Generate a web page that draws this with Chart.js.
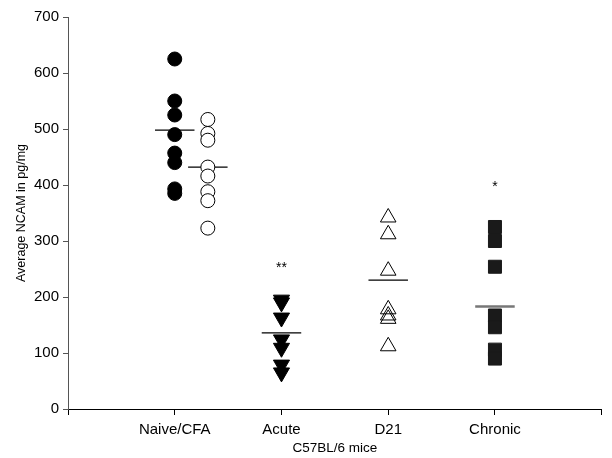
<!DOCTYPE html>
<html>
<head>
<meta charset="utf-8">
<script src="https://cdn.jsdelivr.net/npm/chart.js@4/dist/chart.umd.min.js"></script>
<style>
html,body{margin:0;padding:0;background:#fff;}
#wrap{width:612px;height:458px;position:relative;}
</style>
</head>
<body>
<div id="wrap"><canvas id="c" width="612" height="458"></canvas></div>
<script>
// ---- data ----
const categories = ['Naive/CFA', 'Acute', 'D21', 'Chronic'];
const naiveFilled = [625, 550, 525, 490, 457, 440, 393, 385];
const naiveOpen = [517, 492, 480, 432, 416, 388, 372, 323];
const acute = [195, 190, 163, 124, 109, 79, 65];
const d21 = [342, 312, 247, 178, 167, 161, 112];
const chronic = [325, 300, 254, 167, 146, 106, 90];
const groupMeans = [498, 432, 136, 230, 183];
const significance = ['', '**', '', '*'];
const significanceY = [null, 257, null, 402];
const yTicks = [0, 100, 200, 300, 400, 500, 600, 700];

// ---- layout constants ----
const groupX = [1, 1.31, 2, 3, 4];
const meanHalf = 0.185;
const FONT = "'Liberation Sans', Arial, sans-serif";

function pts(xv, arr) { return arr.map(v => ({x: xv, y: v})); }
function meanLine(i, color, width) {
  return {
    type: 'line',
    data: [{x: groupX[i] - meanHalf, y: groupMeans[i]}, {x: groupX[i] + meanHalf, y: groupMeans[i]}],
    borderColor: color, borderWidth: width, pointRadius: 0, showLine: true, fill: false
  };
}

const sigPlugin = {
  id: 'sig',
  afterDatasetsDraw(chart) {
    const ctx = chart.ctx, xs = chart.scales.x, ys = chart.scales.y;
    ctx.save();
    ctx.fillStyle = '#000';
    ctx.font = '14px ' + FONT;
    ctx.textAlign = 'center';
    ctx.textBaseline = 'middle';
    significance.forEach((s, i) => {
      if (!s) return;
      ctx.fillText(s, xs.getPixelForValue(i + 1), ys.getPixelForValue(significanceY[i]) + 3);
    });
    ctx.restore();
  }
};

new Chart(document.getElementById('c'), {
  type: 'scatter',
  data: {
    datasets: [
      {data: pts(groupX[0], naiveFilled), pointStyle: 'circle', pointRadius: 7, backgroundColor: '#000', borderColor: '#000', borderWidth: 1},
      {data: pts(groupX[1], naiveOpen), pointStyle: 'circle', pointRadius: 7, backgroundColor: '#fff', borderColor: '#000', borderWidth: 1},
      {data: pts(groupX[2], acute), pointStyle: 'triangle', rotation: 180, pointRadius: 9.3, backgroundColor: '#000', borderColor: '#000', borderWidth: 1},
      {data: pts(groupX[3], d21), pointStyle: 'triangle', pointRadius: 9, backgroundColor: 'rgba(255,255,255,0)', borderColor: '#000', borderWidth: 1},
      {data: pts(groupX[4], chronic), pointStyle: 'rect', pointRadius: 9.2, backgroundColor: '#1a1a1a', borderColor: '#1a1a1a', borderWidth: 1},
      meanLine(0, '#000', 1.3),
      meanLine(1, '#000', 1.3),
      meanLine(2, '#000', 1.3),
      meanLine(3, '#000', 1.3),
      meanLine(4, '#777', 2.5)
    ]
  },
  options: {
    responsive: false,
    animation: false,
    events: [],
    layout: {padding: {top: 17, right: 1, left: 0, bottom: 0}},
    plugins: {legend: {display: false}, tooltip: {enabled: false}},
    scales: {
      x: {
        type: 'linear', min: 0, max: 5,
        afterBuildTicks(s) { s.ticks = [0, 1, 2, 3, 4, 5].map(v => ({value: v})); },
        afterFit(s) { s.height = 49; },
        ticks: {
          autoSkip: false, maxRotation: 0, padding: 6, color: '#000',
          font: {family: FONT, size: 15},
          callback: v => (v >= 1 && v <= 4) ? categories[v - 1] : ''
        },
        grid: {drawOnChartArea: false, drawTicks: true, tickLength: 6, color: '#000'},
        border: {display: true, color: '#000', width: 1},
        title: {display: true, text: 'C57BL/6 mice', color: '#000', font: {family: FONT, size: 13.5}, padding: {top: 4, bottom: 2}}
      },
      y: {
        type: 'linear', min: 0, max: 700,
        afterBuildTicks(s) { s.ticks = yTicks.map(v => ({value: v})); },
        afterFit(s) { s.width = 68; },
        ticks: {padding: 4, color: '#000', font: {family: FONT, size: 15}},
        grid: {drawOnChartArea: false, drawTicks: true, tickLength: 5, color: '#555'},
        border: {display: true, color: '#555', width: 1},
        title: {display: true, text: 'Average NCAM in pg/mg', color: '#000', font: {family: FONT, size: 12.5}, padding: {top: 14, bottom: 0}}
      }
    }
  },
  plugins: [sigPlugin]
});
</script>
</body>
</html>
